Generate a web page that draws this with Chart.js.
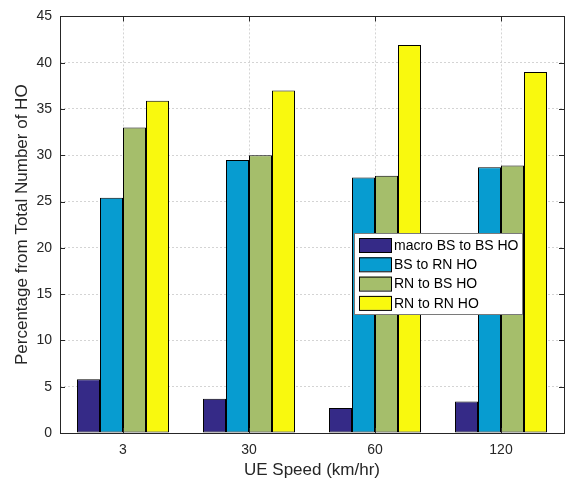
<!DOCTYPE html>
<html>
<head>
<meta charset="utf-8">
<script src="https://cdn.jsdelivr.net/npm/chart.js@4.4.0/dist/chart.umd.min.js"></script>
<style>
  html, body { margin: 0; padding: 0; background: #fff; }
  #wrap { width: 573px; height: 486px; }
</style>
</head>
<body>
<div id="wrap"><canvas id="chart_ho" width="573" height="486"></canvas></div>
<script>
// categories and series
const speeds = ["3", "30", "60", "120"];
const macroToBs = [5.8, 3.7, 2.7, 3.4];
const bsToRn = [25.4, 29.5, 27.6, 28.7];
const rnToBs = [33.0, 30.0, 27.8, 28.9];
const rnToRn = [35.9, 37.0, 41.9, 39.0];
const seriesLabels = ["macro BS to BS HO", "BS to RN HO", "RN to BS HO", "RN to RN HO"];
const seriesColors = ["#352a87", "#079cd0", "#a5be6b", "#f9f90e"];
const yTicks = [0, 5, 10, 15, 20, 25, 30, 35, 40, 45];

const font = "'Liberation Sans', Arial, sans-serif";

// draws the axes box with inward ticks (matlab style)
const boxPlugin = {
  id: "box",
  afterDraw(c) {
    const ctx = c.ctx;
    const a = c.chartArea;
    const x = c.scales.x, y = c.scales.y;
    ctx.save();
    ctx.strokeStyle = "#262626";
    ctx.lineWidth = 1;
    ctx.strokeRect(Math.round(a.left) + 0.5, Math.round(a.top) + 0.5,
      Math.round(a.right - a.left), Math.round(a.bottom - a.top));
    ctx.beginPath();
    yTicks.forEach((v) => {
      const py = Math.round(y.getPixelForValue(v)) + 0.5;
      ctx.moveTo(a.left, py); ctx.lineTo(a.left + 5, py);
      ctx.moveTo(a.right, py); ctx.lineTo(a.right - 5, py);
    });
    speeds.forEach((s, i) => {
      const px = Math.round(x.getPixelForValue(i)) + 0.5;
      ctx.moveTo(px, a.bottom); ctx.lineTo(px, a.bottom - 5);
      ctx.moveTo(px, a.top); ctx.lineTo(px, a.top + 5);
    });
    ctx.stroke();
    ctx.restore();
  }
};

// legend box inside the plot, like the original
const legendPlugin = {
  id: "innerLegend",
  afterDraw(c) {
    const ctx = c.ctx;
    const lx = 354, ly = 233, lw = 168, lh = 81;
    ctx.save();
    ctx.fillStyle = "#fff";
    ctx.fillRect(lx, ly, lw, lh);
    ctx.strokeStyle = "#7a7a7a";
    ctx.lineWidth = 1;
    ctx.strokeRect(lx + 0.5, ly + 0.5, lw, lh);
    ctx.font = "14px " + font;
    ctx.textBaseline = "middle";
    c.data.datasets.forEach((ds, i) => {
      const cy = ly + 12 + i * 19.3;
      ctx.fillStyle = ds.backgroundColor;
      ctx.fillRect(lx + 5, cy - 7, 32, 14);
      ctx.strokeStyle = "#000";
      ctx.strokeRect(lx + 5.5, cy - 6.5, 32, 14);
      ctx.fillStyle = "#000";
      ctx.fillText(ds.label, lx + 40, cy + 1);
    });
    ctx.restore();
  }
};

const datasets = [macroToBs, bsToRn, rnToBs, rnToRn].map((vals, i) => ({
  label: seriesLabels[i],
  data: vals,
  backgroundColor: seriesColors[i],
  borderColor: "#000",
  borderWidth: 1,
  borderSkipped: false,
}));

const ctx = document.getElementById("chart_ho").getContext("2d");
new Chart(ctx, {
  type: "bar",
  data: { labels: speeds, datasets: datasets },
  options: {
    responsive: false,
    animation: false,
    layout: { padding: { left: 0, right: 9, top: 7, bottom: 0 } },
    datasets: { bar: { barPercentage: 1, categoryPercentage: 0.73 } },
    plugins: { legend: { display: false }, tooltip: { enabled: false } },
    scales: {
      x: {
        grid: { offset: false, color: "#d4d4d4", drawTicks: false },
        border: { display: false, dash: [2, 2] },
        ticks: { color: "#262626", font: { family: font, size: 14 }, padding: 9 },
        title: { display: true, text: "UE Speed (km/hr)", color: "#262626",
          font: { family: font, size: 17 }, padding: { top: 4, bottom: 5 } },
        afterFit(s) { s.height = 53; }
      },
      y: {
        min: 0, max: 45,
        afterBuildTicks(s) { s.ticks = yTicks.map((v) => ({ value: v })); },
        grid: { color: "#d4d4d4", drawTicks: false },
        border: { display: false, dash: [2, 2] },
        ticks: { color: "#262626", font: { family: font, size: 14 }, padding: 8 },
        title: { display: true, text: "Percentage from Total Number of HO", color: "#262626",
          font: { family: font, size: 17 }, padding: { top: 12, bottom: 0 } },
        afterFit(s) { s.width = 60; }
      }
    }
  },
  plugins: [boxPlugin, legendPlugin]
});
</script>
</body>
</html>
